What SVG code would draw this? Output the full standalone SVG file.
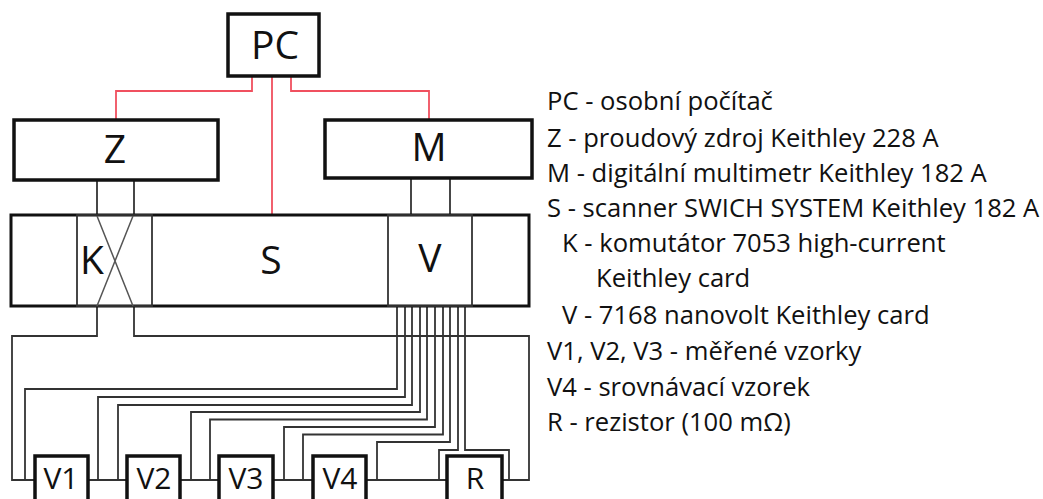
<svg xmlns="http://www.w3.org/2000/svg" width="1043" height="499" viewBox="0 0 1043 499">
<style>
.b{fill:#fff;stroke:#111;stroke-width:3.5}
.s{fill:#fff;stroke:#111;stroke-width:3}
.w{fill:none;stroke:#333;stroke-width:1.8}
.x{fill:none;stroke:#555;stroke-width:1.5}
.r{fill:none;stroke:#f0505f;stroke-width:1.8}
.n{font-family:"Open Sans","Noto Sans",sans-serif;font-size:39px;fill:#111;text-anchor:middle}
.m{font-family:"Open Sans","Noto Sans",sans-serif;font-size:30px;fill:#111;text-anchor:middle}
.l{font-family:"Open Sans","Noto Sans",sans-serif;font-size:25.6px;fill:#111}
</style>
<rect width="1043" height="499" fill="#fff"/>
<g id="connectors">
<path class="r" d="M252 76V91H116V120M272 76V215M291 76V91H429V120"/>
<path class="w" d="M97 180V215M134 180V215M411 178V215M450 178V215"/>
<path class="w" d="M97 306V336H12V480H35M134 306V336H529V480H502"/>
<path class="w" d="M397 306V389H25V480M405 306V397H98V480M412 306V405H118V480M420 306V412H191V480M427 306V419.500H210V480M435 306V427H284V480M443 306V434.500H303V480M450 306V442H377V480M458 306V450H439V480H447M465 306V450H509V480"/>
<path class="w" d="M88 480H127M180 480H219M273 480H313M366 480H447"/>
</g>
<g id="node-S"><rect class="s" x="11" y="215" width="518" height="91"/></g>
<g id="node-K"><rect class="w" x="77" y="215" width="75" height="91"/><path class="x" d="M97 216L133 306M133 216L97 306"/><text class="n" x="92" y="274">K</text></g>
<g id="node-S-label"><text class="n" x="271" y="274">S</text></g>
<g id="node-V"><rect class="w" x="388" y="215" width="84" height="91"/><text class="n" x="430" y="272">V</text></g>
<g id="node-PC"><rect class="b" x="228" y="14" width="91" height="62"/><text class="n" x="275" y="59">PC</text></g>
<g id="node-Z"><rect class="b" x="14" y="120" width="204" height="60"/><text class="n" x="115" y="163">Z</text></g>
<g id="node-M"><rect class="b" x="325" y="120" width="207" height="58"/><text class="n" x="429" y="161">M</text></g>
<g id="node-V1"><rect class="b" x="35" y="456" width="53" height="60"/><text class="m" x="61" y="489">V1</text></g>
<g id="node-V2"><rect class="b" x="127" y="456" width="53" height="60"/><text class="m" x="154" y="489">V2</text></g>
<g id="node-V3"><rect class="b" x="219" y="456" width="54" height="60"/><text class="m" x="246" y="489">V3</text></g>
<g id="node-V4"><rect class="b" x="313" y="456" width="53" height="60"/><text class="m" x="340" y="489">V4</text></g>
<g id="node-R"><rect class="b" x="447" y="456" width="55" height="60"/><text class="m" x="475" y="489">R</text></g>
<g id="legend">
<text class="l" x="547" y="110">PC - osobní počítač</text>
<text class="l" x="547" y="146.500">Z - proudový zdroj Keithley 228 A</text>
<text class="l" x="547" y="181.500">M - digitální multimetr Keithley 182 A</text>
<text class="l" x="547" y="217">S - scanner SWICH SYSTEM Keithley 182 A</text>
<text class="l" x="562" y="252">K - komutátor 7053 high-current</text>
<text class="l" x="596" y="287">Keithley card</text>
<text class="l" x="562" y="324">V - 7168 nanovolt Keithley card</text>
<text class="l" x="547" y="360">V1, V2, V3 - měřené vzorky</text>
<text class="l" x="547" y="396">V4 - srovnávací vzorek</text>
<text class="l" x="547" y="431">R - rezistor (100 mΩ)</text>
</g>
</svg>
